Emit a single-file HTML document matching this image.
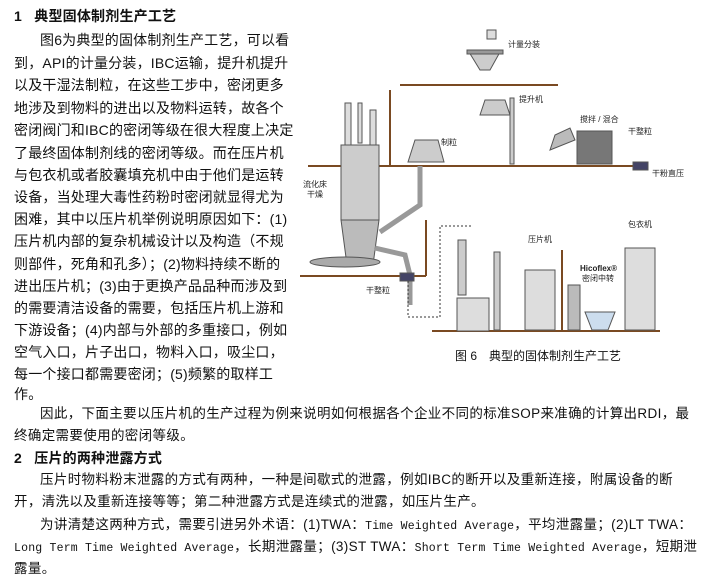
<!DOCTYPE html>
<html><head><meta charset="utf-8"><style>
body{margin:0;width:708px;height:580px;background:#fff;position:relative;overflow:hidden;font-family:"Liberation Sans","Noto Sans CJK SC",sans-serif;font-size:14px;color:#111}
.l{position:absolute;white-space:nowrap;line-height:16px;letter-spacing:0.2px}
.w{font-size:13.5px;letter-spacing:0.35px}
.b{font-weight:bold}
.m{font-family:"Liberation Mono","Noto Sans CJK SC",monospace;font-size:11.5px;letter-spacing:0.2px}
</style></head><body>
<div class="l b" style="left:14px;top:8px">1&nbsp;&nbsp;&nbsp;典型固体制剂生产工艺</div>
<div class="l" style="left:40px;top:32px">图6为典型的固体制剂生产工艺，可以看</div>
<div class="l" style="left:14px;top:55px">到，API的计量分装，IBC运输，提升机提升</div>
<div class="l" style="left:14px;top:77px">以及干湿法制粒，在这些工步中，密闭更多</div>
<div class="l" style="left:14px;top:100px">地涉及到物料的进出以及物料运转，故各个</div>
<div class="l" style="left:14px;top:122px">密闭阀门和IBC的密闭等级在很大程度上决定</div>
<div class="l" style="left:14px;top:145px">了最终固体制剂线的密闭等级。而在压片机</div>
<div class="l" style="left:14px;top:167px">与包衣机或者胶囊填充机中由于他们是运转</div>
<div class="l" style="left:14px;top:189px">设备，当处理大毒性药粉时密闭就显得尤为</div>
<div class="l" style="left:14px;top:211px">困难，其中以压片机举例说明原因如下：(1)</div>
<div class="l" style="left:14px;top:233px">压片机内部的复杂机械设计以及构造（不规</div>
<div class="l" style="left:14px;top:256px">则部件，死角和孔多）；(2)物料持续不断的</div>
<div class="l" style="left:14px;top:278px">进出压片机；(3)由于更换产品品种而涉及到</div>
<div class="l" style="left:14px;top:300px">的需要清洁设备的需要，包括压片机上游和</div>
<div class="l" style="left:14px;top:322px">下游设备；(4)内部与外部的多重接口，例如</div>
<div class="l" style="left:14px;top:344px">空气入口，片子出口，物料入口，吸尘口，</div>
<div class="l" style="left:14px;top:366px">每一个接口都需要密闭；(5)频繁的取样工</div>
<div class="l" style="left:14px;top:386px">作。</div>
<div class="l w" style="left:40px;top:406px">因此，下面主要以压片机的生产过程为例来说明如何根据各个企业不同的标准SOP来准确的计算出RDI，最</div>
<div class="l w" style="left:14px;top:428px">终确定需要使用的密闭等级。</div>
<div class="l b" style="left:14px;top:450px">2&nbsp;&nbsp;&nbsp;压片的两种泄露方式</div>
<div class="l w" style="left:40px;top:472px">压片时物料粉末泄露的方式有两种，一种是间歇式的泄露，例如IBC的断开以及重新连接，附属设备的断</div>
<div class="l w" style="left:14px;top:494px">开，清洗以及重新连接等等；第二种泄露方式是连续式的泄露，如压片生产。</div>
<div class="l w" style="left:40px;top:517px">为讲清楚这两种方式，需要引进另外术语：(1)TWA：<span class="m">Time Weighted Average</span>，平均泄露量；(2)LT TWA：</div>
<div class="l w" style="left:14px;top:539px"><span class="m">Long Term Time Weighted Average</span>，长期泄露量；(3)ST TWA：<span class="m">Short Term Time Weighted Average</span>，短期泄</div>
<div class="l w" style="left:14px;top:561px">露量。</div>

<svg style="position:absolute;left:0;top:0" width="708" height="580">
<g fill="none" stroke="#7a4a22" stroke-width="2">
<line x1="400" y1="85" x2="558" y2="85"/>
<line x1="390" y1="90" x2="390" y2="166"/>
<line x1="308" y1="166" x2="648" y2="166"/>
<line x1="300" y1="276" x2="426" y2="276"/>
<line x1="426" y1="220" x2="426" y2="276"/>
<line x1="432" y1="331" x2="660" y2="331"/>
<line x1="562" y1="250" x2="562" y2="331"/>
</g>
<g stroke="#555" stroke-width="1">
<rect x="341" y="145" width="38" height="75" fill="#ccc"/>
<polygon points="341,220 379,220 373,265 347,265" fill="#bbb"/>
<ellipse cx="345" cy="262" rx="35" ry="5" fill="#aaa"/>
<rect x="345" y="103" width="6" height="42" fill="#ddd"/><rect x="358" y="103" width="4" height="40" fill="#ddd"/><rect x="370" y="110" width="6" height="35" fill="#ddd"/>
<polygon points="408,162 444,162 438,140 415,140" fill="#ccc"/>
<polyline points="420,166 420,205 380,232" fill="none" stroke="#999" stroke-width="5"/>
<polyline points="375,248 405,255 410,275 410,305" fill="none" stroke="#999" stroke-width="5"/>
<rect x="400" y="273" width="14" height="8" fill="#446"/>
<polygon points="469,52 500,52 490,70 480,70" fill="#ccc"/><rect x="467" y="50" width="36" height="4" fill="#999"/>
<rect x="487" y="30" width="9" height="9" fill="#ddd"/>
<polygon points="480,115 510,115 505,100 485,100" fill="#ccc"/><rect x="510" y="98" width="4" height="66" fill="#ccc"/>
<rect x="577" y="131" width="35" height="33" fill="#777"/>
<polygon points="550,150 575,140 570,128 555,135" fill="#bbb"/>
<rect x="633" y="162" width="15" height="8" fill="#446"/>
<rect x="458" y="240" width="8" height="55" fill="#ccc"/>
<rect x="457" y="298" width="32" height="33" fill="#ddd"/>
<rect x="494" y="252" width="6" height="78" fill="#ccc"/>
<rect x="525" y="270" width="30" height="60" fill="#ddd"/>
<rect x="568" y="285" width="12" height="45" fill="#bbb"/>
<polygon points="585,312 615,312 608,330 592,330" fill="#cde"/>
<rect x="625" y="248" width="30" height="82" fill="#ddd"/>
</g>
<path d="M408,281 V317 H440 V226 H472" fill="none" stroke="#333" stroke-dasharray="2,2"/>
<g font-size="8" fill="#222" font-family="Liberation Sans,Noto Sans CJK SC,sans-serif">
<text x="508" y="47">计量分装</text><text x="519" y="102">提升机</text><text x="580" y="122">搅拌 / 混合</text>
<text x="628" y="134">干整粒</text><text x="441" y="145">制粒</text><text x="652" y="176">干粉直压</text>
<text x="303" y="187">流化床</text><text x="307" y="197">干燥</text><text x="366" y="293">干整粒</text>
<text x="528" y="242">压片机</text><text x="628" y="227">包衣机</text>
<text x="580" y="271" font-weight="bold">Hicoflex®</text><text x="582" y="281">密闭中转</text>
</g>
<text x="455" y="360" font-size="12" fill="#111" font-family="Liberation Sans,Noto Sans CJK SC,sans-serif">图 6　典型的固体制剂生产工艺</text>
</svg>
</body></html>
